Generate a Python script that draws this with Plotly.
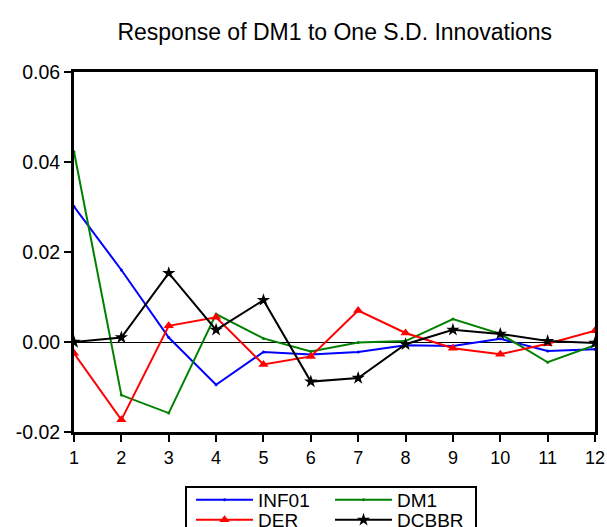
import plotly.graph_objects as go

# Impulse responses of DM1 over a 12-period horizon
periods = list(range(1, 13))
inf01 = [0.0301, 0.0160, 0.0010, -0.0095, -0.0022, -0.0028, -0.0022, -0.0007, -0.0009, 0.0007, -0.0020, -0.0016]
dm1 = [0.0423, -0.0118, -0.0158, 0.0062, 0.0008, -0.0021, -0.0001, 0.0002, 0.0051, 0.0018, -0.0045, -0.0007]
der = [-0.0025, -0.0173, 0.0036, 0.0055, -0.0050, -0.0032, 0.0070, 0.0020, -0.0014, -0.0027, -0.0004, 0.0025]
dcbbr = [0.0000, 0.0010, 0.0153, 0.0027, 0.0093, -0.0088, -0.0080, -0.0005, 0.0027, 0.0018, 0.0002, -0.0002]

# (name, values, colour, marker, legend row)
series = [
    ("INF01", inf01, "#0000ff", dict(symbol="circle", size=3), "legend"),
    ("DM1", dm1, "#008000", dict(symbol="circle", size=3), "legend"),
    ("DER", der, "#ff0000", dict(symbol="triangle-up", size=9), "legend2"),
    ("DCBBR", dcbbr, "#000000", dict(symbol="star", size=10), "legend2"),
]

FONT = "Liberation Sans, Arial, sans-serif"

fig = go.Figure()
for name, vals, color, marker, leg in series:
    fig.add_trace(go.Scatter(
        x=periods, y=vals, name=name, mode="lines+markers",
        line=dict(color=color, width=2),
        marker=dict(color=color, **marker),
        legend=leg,
    ))

row_style = dict(
    orientation="h", xanchor="left", yanchor="middle",
    bgcolor="rgba(0,0,0,0)", borderwidth=0,
    font=dict(family=FONT, size=19, color="black"),
    itemwidth=57, entrywidth=67, entrywidthmode="pixels",
)

fig.update_layout(
    width=607, height=527,
    margin=dict(l=74, r=12, t=72, b=95, autoexpand=False),
    paper_bgcolor="white", plot_bgcolor="white",
    title=dict(text="Response of DM1 to One S.D. Innovations",
               x=0.5515, xanchor="center", y=0.94, yanchor="middle",
               font=dict(family=FONT, size=23, color="black")),
    xaxis=dict(range=[1, 12], tickvals=periods, ticktext=[str(p) for p in periods],
               showline=True, linecolor="black", linewidth=3, mirror=True,
               ticks="outside", ticklen=7, tickwidth=2, tickcolor="black",
               showgrid=False, zeroline=False,
               tickfont=dict(family=FONT, size=18, color="black")),
    yaxis=dict(range=[-0.02, 0.06], tickvals=[-0.02, 0.0, 0.02, 0.04, 0.06],
               ticktext=["-0.02", "0.00", "0.02", "0.04", "0.06"],
               showline=True, linecolor="black", linewidth=3, mirror=True,
               ticks="outside", ticklen=7, tickwidth=2, tickcolor="black",
               showgrid=False, zeroline=True, zerolinecolor="black", zerolinewidth=1,
               tickfont=dict(family=FONT, size=19.5, color="black")),
    legend=dict(x=0.2246, y=-0.1889, **row_style),
    legend2=dict(x=0.2246, y=-0.2445, **row_style),
    showlegend=True,
)

# Frame around the two legend rows
fig.add_shape(type="rect", xref="paper", yref="paper",
              x0=(186 - 74) / 521, x1=(476 - 74) / 521, y0=-0.35, y1=-0.153,
              line=dict(color="black", width=2), fillcolor="rgba(0,0,0,0)")

fig.write_html("out.html")
